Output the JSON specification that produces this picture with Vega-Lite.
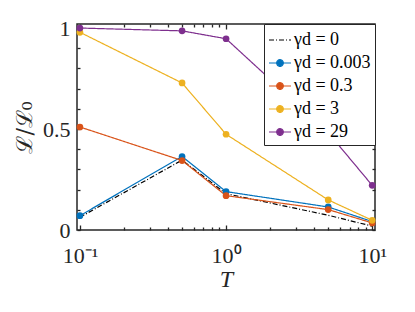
{
  "$schema": "https://vega.github.io/schema/vega-lite/v6.json",
  "autosize": {"type": "none"},
  "width": 298,
  "height": 206,
  "padding": {"left": 77, "top": 24, "right": 40, "bottom": 82},
  "background": "white",
  "config": {
    "view": {"stroke": "#262626", "strokeWidth": 1.5},
    "font": "DejaVu Serif"
  },
  "data": {
    "values": [
      {"T": 0.1, "L": 0.063, "g": "γd = 0"},
      {"T": 0.5, "L": 0.346, "g": "γd = 0"},
      {"T": 1, "L": 0.18, "g": "γd = 0"},
      {"T": 5, "L": 0.073, "g": "γd = 0"},
      {"T": 10, "L": 0.019, "g": "γd = 0"},
      {"T": 0.1, "L": 0.071, "g": "γd = 0.003"},
      {"T": 0.5, "L": 0.364, "g": "γd = 0.003"},
      {"T": 1, "L": 0.19, "g": "γd = 0.003"},
      {"T": 5, "L": 0.114, "g": "γd = 0.003"},
      {"T": 10, "L": 0.042, "g": "γd = 0.003"},
      {"T": 0.1, "L": 0.51, "g": "γd = 0.3"},
      {"T": 0.5, "L": 0.344, "g": "γd = 0.3"},
      {"T": 1, "L": 0.17, "g": "γd = 0.3"},
      {"T": 5, "L": 0.101, "g": "γd = 0.3"},
      {"T": 10, "L": 0.035, "g": "γd = 0.3"},
      {"T": 0.1, "L": 0.979, "g": "γd = 3"},
      {"T": 0.5, "L": 0.728, "g": "γd = 3"},
      {"T": 1, "L": 0.474, "g": "γd = 3"},
      {"T": 5, "L": 0.149, "g": "γd = 3"},
      {"T": 10, "L": 0.048, "g": "γd = 3"},
      {"T": 0.1, "L": 1.0, "g": "γd = 29"},
      {"T": 0.5, "L": 0.986, "g": "γd = 29"},
      {"T": 1, "L": 0.947, "g": "γd = 29"},
      {"T": 5, "L": 0.482, "g": "γd = 29"},
      {"T": 10, "L": 0.221, "g": "γd = 29"}
    ]
  },
  "layer": [
    {
      "mark": {"type": "line", "strokeWidth": 1.2, "clip": true},
      "encoding": {
        "x": {
          "field": "T", "type": "quantitative",
          "scale": {"type": "log", "domain": [0.0955, 10.45], "nice": false},
          "axis": {
            "orient": "bottom",
            "values": [0.1,0.2,0.3,0.4,0.5,0.6,0.7,0.8,0.9,1,2,3,4,5,6,7,8,9,10],
            "labelExpr": "datum.value == 0.1 ? '10⁻¹' : datum.value == 1 ? '10⁰' : datum.value == 10 ? '10¹' : ''",
            "domain": false, "grid": false,
            "tickColor": "#262626",
            "tickSize": {"condition": {"test": "datum.value == 0.1 || datum.value == 1 || datum.value == 10", "value": -5}, "value": -3},
            "tickWidth": 1.3,
            "labelFont": "Liberation Serif",
            "labelFontSize": 22, "labelColor": "#262626", "labelPadding": 20,
            "labelBaseline": "top", "labelFlush": false,
            "title": "T", "titleFont": "Liberation Serif", "titleFontSize": 24, "titleFontStyle": "italic", "titleFontWeight": "normal",
            "titleColor": "#262626", "titlePadding": 1
          }
        },
        "y": {
          "field": "L", "type": "quantitative",
          "scale": {"domain": [0, 1.02], "nice": false, "zero": false},
          "axis": {
            "orient": "left",
            "values": [0,0.1,0.2,0.3,0.4,0.5,0.6,0.7,0.8,0.9,1],
            "labelExpr": "datum.value == 0 ? '0' : datum.value == 0.5 ? '0.5' : datum.value == 1 ? '1' : ''",
            "domain": false, "grid": false,
            "tickColor": "#262626",
            "tickSize": -3,
            "tickWidth": 1.3,
            "labelFont": "Liberation Serif",
            "labelFontSize": 22, "labelColor": "#262626", "labelPadding": 10,
            "labelFlush": false,
            "title": "ℒ/ℒ₀", "titleFont": "DejaVu Serif", "titleFontSize": 22, "titleFontWeight": "normal",
            "titleColor": "#262626", "titlePadding": 6
          }
        },
        "color": {
          "field": "g", "type": "nominal",
          "scale": {
            "domain": ["γd = 0", "γd = 0.003", "γd = 0.3", "γd = 3", "γd = 29"],
            "range": ["#000000", "#0072BD", "#D95319", "#EDB120", "#7E2F8E"]
          },
          "legend": {
            "title": null,
            "orient": "top-right",
            "offset": 0,
            "fillColor": "white",
            "strokeColor": "#262626",
            "padding": 4,
            "labelFont": "Liberation Serif",
            "labelFontSize": 18,
            "labelColor": "#000000",
            "labelOffset": 2,
            "rowPadding": 2,
            "symbolSize": 484,
            "symbolStrokeWidth": 1.2,
            "symbolType": "M-1,0H1M0.3,0A0.3,0.3,0,1,1,-0.3,0A0.3,0.3,0,1,1,0.3,0Z",
            "encode": {
              "symbols": {
                "update": {
                  "shape": {"signal": "datum.value === 'γd = 0' ? 'M-1,0H1' : 'M-1,0H1M0.3,0A0.3,0.3,0,1,1,-0.3,0A0.3,0.3,0,1,1,0.3,0Z'"},
                  "strokeDash": {"signal": "datum.value === 'γd = 0' ? [5,2,1,2] : [1,0]"},
                  "fill": {"scale": "color", "field": "value"},
                  "stroke": {"scale": "color", "field": "value"},
                  "opacity": {"value": 1},
                  "fillOpacity": {"value": 1}
                }
              }
            }
          }
        },
        "strokeDash": {
          "field": "g", "type": "nominal",
          "scale": {
            "domain": ["γd = 0", "γd = 0.003", "γd = 0.3", "γd = 3", "γd = 29"],
            "range": [[5,2,1,2], [1,0], [1,0], [1,0], [1,0]]
          },
          "legend": null
        }
      }
    },
    {
      "transform": [{"filter": "datum.g !== 'γd = 0'"}],
      "mark": {"type": "point", "shape": "circle", "filled": true, "size": 45, "opacity": 1},
      "encoding": {
        "x": {
          "field": "T", "type": "quantitative",
          "axis": {
            "orient": "top",
            "values": [0.1,0.2,0.3,0.4,0.5,0.6,0.7,0.8,0.9,1,2,3,4,5,6,7,8,9,10],
            "labels": false, "domain": false, "grid": false, "title": null,
            "tickColor": "#262626",
            "tickSize": {"condition": {"test": "datum.value == 0.1 || datum.value == 1 || datum.value == 10", "value": -5}, "value": -3},
            "tickWidth": 1.3
          }
        },
        "y": {
          "field": "L", "type": "quantitative",
          "axis": {
            "orient": "right",
            "values": [0,0.1,0.2,0.3,0.4,0.5,0.6,0.7,0.8,0.9,1],
            "labels": false, "domain": false, "grid": false, "title": null,
            "tickColor": "#262626", "tickSize": -3, "tickWidth": 1.3
          }
        },
        "color": {"field": "g", "type": "nominal"}
      }
    }
  ],
  "resolve": {"axis": {"x": "independent", "y": "independent"}}
}
